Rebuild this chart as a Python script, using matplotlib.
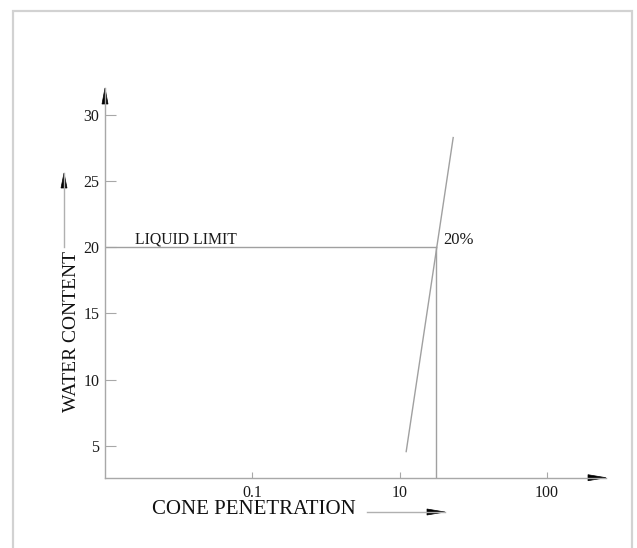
import math
import matplotlib
matplotlib.use("Agg")
import matplotlib.pyplot as plt
from matplotlib.patches import Polygon, Rectangle
from matplotlib.lines import Line2D

plt.rcParams['font.family'] = ['Liberation Serif', 'DejaVu Serif']

# ---- data ----
x_tick_positions = [1, 2, 3]
x_tick_labels = ['0.1', '10', '100']
y_ticks = [5, 10, 15, 20, 25, 30]
flow_x = [2.044, 2.363]          # flow line, in axis position units
flow_y = [4.57, 28.26]           # water content
liquid_limit = 20
liquid_limit_x = 2.247
liquid_limit_label = '20%'

W, H = 637, 548
fig = plt.figure(figsize=(W / 100, H / 100), dpi=100)
fig.patch.set_facecolor('white')

def fp(x, y):
    """pixel (from top-left) -> figure fraction"""
    return (x / W, 1 - y / H)

# outer border
fig.patches.append(Rectangle(fp(13, 560), (632 - 13) / W, (560 - 11) / H,
                             transform=fig.transFigure, fill=False,
                             ec='#d2d2d2', lw=1.6))

ax_l, ax_r, ax_t, ax_b = 105, 606, 88, 477.7
ax = fig.add_axes([ax_l / W, 1 - ax_b / H, (ax_r - ax_l) / W, (ax_b - ax_t) / H])
ax.set_xlim(0, 3.40)
ax.set_ylim(2.6, 32.0)
for s in ['top', 'right']:
    ax.spines[s].set_visible(False)
for s in ['left', 'bottom']:
    ax.spines[s].set_color('#a8a8a8')
    ax.spines[s].set_linewidth(1.0)

ax.set_xticks(x_tick_positions)
ax.set_xticklabels(x_tick_labels)
ax.set_yticks(y_ticks)
ax.tick_params(axis='y', direction='in', length=8, width=0.8, color='#a8a8a8',
               labelsize=11.5, pad=4, labelcolor='#1a1a1a')
ax.tick_params(axis='x', direction='in', length=4, width=0.8, color='#a8a8a8',
               labelsize=11.5, pad=5, labelcolor='#1a1a1a')

# axis arrowheads
axw, axh = ax_r - ax_l, ax_b - ax_t
ax.add_patch(Polygon([(0, 1), (-3 / axw, 1 - 16 / axh), (3 / axw, 1 - 16 / axh)],
                     closed=True, transform=ax.transAxes, clip_on=False,
                     fc='black', ec='black', lw=0.5))
ax.add_patch(Polygon([(1, 0), (1 - 18 / axw, 3 / axh), (1 - 18 / axw, -3 / axh)],
                     closed=True, transform=ax.transAxes, clip_on=False,
                     fc='black', ec='black', lw=0.5))

line_col = '#a0a0a0'
# flow line
ax.plot(flow_x, flow_y, color=line_col, lw=1.0)
# liquid limit lines
ax.plot([0, liquid_limit_x], [liquid_limit, liquid_limit], color=line_col, lw=1.0)
ax.plot([liquid_limit_x, liquid_limit_x], [2.6, liquid_limit], color=line_col, lw=1.0)

ax.text(0.203, liquid_limit + 0.3, 'LIQUID LIMIT', fontsize=11.3,
        va='baseline', ha='left', color='#1a1a1a')
ax.text(2.298, liquid_limit + 0.2, liquid_limit_label, fontsize=12,
        va='baseline', ha='left', color='#1a1a1a')

# axis titles
fig.text(*fp(72, 331), 'WATER CONTENT', rotation=90, ha='center', va='center',
         fontsize=14, color='#111111')
fig.text(*fp(254, 510), 'CONE PENETRATION', ha='center', va='center',
         fontsize=15, color='#111111')

def fig_arrow(x0, y0, x1, y1, head_len, half_w):
    fig.lines.append(Line2D([x0 / W, x1 / W], [1 - y0 / H, 1 - y1 / H],
                            transform=fig.transFigure, color='#b0b0b0', lw=1.0))
    dx, dy = x1 - x0, y1 - y0
    L = math.hypot(dx, dy)
    ux, uy = dx / L, dy / L
    bx, by = x1 - ux * head_len, y1 - uy * head_len
    px, py = -uy * half_w, ux * half_w
    pts = [fp(x1, y1), fp(bx + px, by + py), fp(bx - px, by - py)]
    fig.patches.append(Polygon(pts, closed=True, transform=fig.transFigure,
                               fc='black', ec='black', lw=0.5))

fig_arrow(64, 247, 64, 173, 15, 3)
fig_arrow(367, 512, 445, 512, 18, 3)

fig.savefig('out.png', dpi=100, facecolor='white')
